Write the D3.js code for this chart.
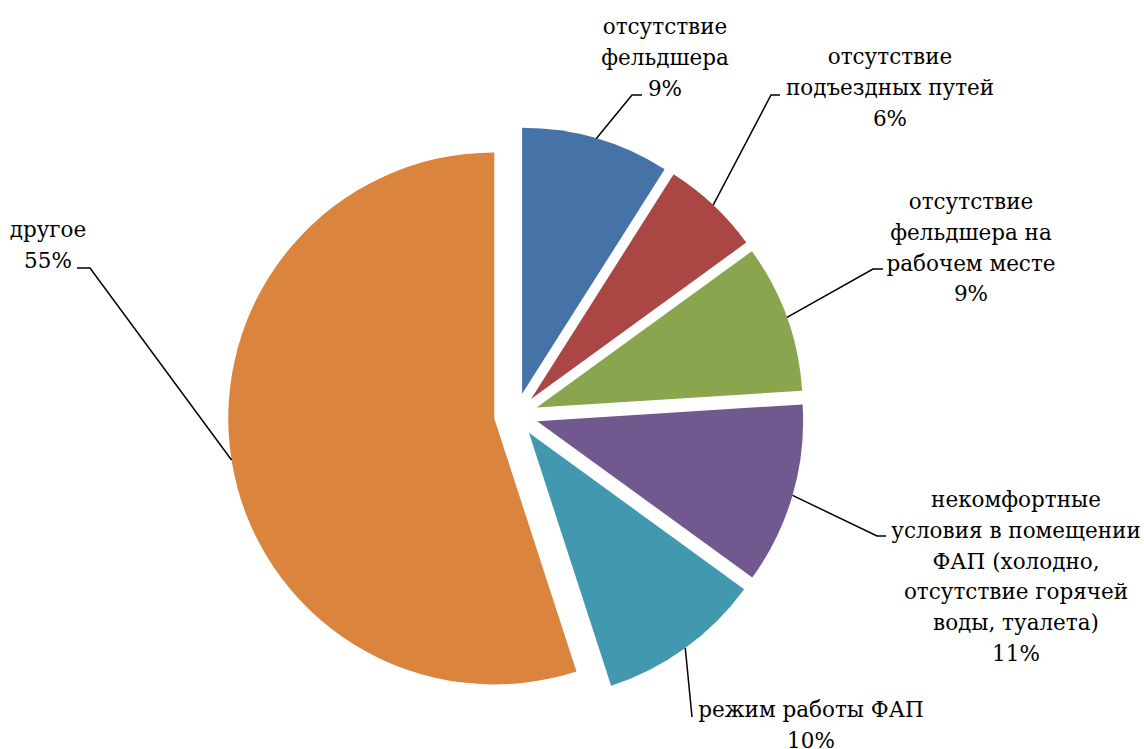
<!DOCTYPE html>
<html lang="ru">
<head>
<meta charset="utf-8">
<script src="https://cdn.jsdelivr.net/npm/d3@7"></script>
<style>
  html, body { margin: 0; padding: 0; background: #fff; }
  svg { display: block; }
</style>
</head>
<body>
<svg id="chart" width="1144" height="749"></svg>
<script>
// Причины (доли ответов, %)
const categories = [
  ["отсутствие", "фельдшера"],
  ["отсутствие", "подъездных путей"],
  ["отсутствие", "фельдшера на", "рабочем месте"],
  ["некомфортные", "условия в помещении", "ФАП (холодно,", "отсутствие горячей", "воды, туалета)"],
  ["режим работы ФАП"],
  ["другое"]
];
const values = [9, 6, 9, 11, 10, 55];
const colors = ["#4572A7", "#AA4643", "#89A54E", "#71588F", "#4198AF", "#DB843D"];

// Layout: pie geometry and label placement
const cx = 516, cy = 415, R = 266, explode = 22;
const lineH = 30.8;
const fontFamily = "'DejaVu Serif', serif";
const fontSize = "21.5px";
// label centre x, first baseline y, elbow point of the leader, length of the short tail
const labelLayout = [
  { x: 665,  y: 34,  ex: 632, ey: 95,  tail: 10 },
  { x: 890,  y: 64,  ex: 771, ey: 95,  tail: 9 },
  { x: 971,  y: 209, ex: 873, ey: 269, tail: 10 },
  { x: 1016, y: 507, ex: 877, ey: 536, tail: 9 },
  { x: 811,  y: 717, ex: 692, ey: 717, tail: 0 },
  { x: 48,   y: 237, ex: 90,  ey: 268, tail: -13 }
];

const svg = d3.select("#chart");
const g = svg.append("g").attr("transform", `translate(${cx},${cy})`);

const pie = d3.pie().sort(null).value(d => d).startAngle(0).endAngle(2 * Math.PI);
const slices = pie(values);

const arc = d3.arc().innerRadius(0).outerRadius(R);
const offsetArc = d3.arc().innerRadius(explode).outerRadius(explode);
const edgeArc = d3.arc().innerRadius(R).outerRadius(R);

// exploded slices
g.selectAll("path.slice")
  .data(slices)
  .join("path")
  .attr("class", "slice")
  .attr("transform", d => {
    const [ox, oy] = offsetArc.centroid(d);
    return `translate(${ox},${oy})`;
  })
  .attr("d", arc)
  .attr("fill", (d, i) => colors[i]);

// leader lines: from the middle of each slice's rim to its label
slices.forEach((d, i) => {
  const [ox, oy] = offsetArc.centroid(d);
  const [px, py] = edgeArc.centroid(d);
  const sx = cx + ox + px, sy = cy + oy + py;
  const L = labelLayout[i];
  const pts = [[sx, sy], [L.ex, L.ey], [L.ex + L.tail, L.ey]];
  svg.append("path")
    .attr("d", d3.line()(pts))
    .attr("fill", "none")
    .attr("stroke", "#000")
    .attr("stroke-width", 1.5);
});

// labels: category lines plus percentage
const total = d3.sum(values);
const labels = svg.selectAll("text.lbl")
  .data(slices)
  .join("text")
  .attr("class", "lbl")
  .attr("text-anchor", "middle")
  .style("font-family", fontFamily)
  .style("font-size", fontSize)
  .attr("fill", "#000");

labels.each(function(d, i) {
  const L = labelLayout[i];
  const lines = categories[i].concat([Math.round(d.data / total * 100) + "%"]);
  d3.select(this).selectAll("tspan")
    .data(lines)
    .join("tspan")
    .attr("x", L.x)
    .attr("y", (t, k) => L.y + k * lineH)
    .text(t => t);
});
</script>
</body>
</html>
